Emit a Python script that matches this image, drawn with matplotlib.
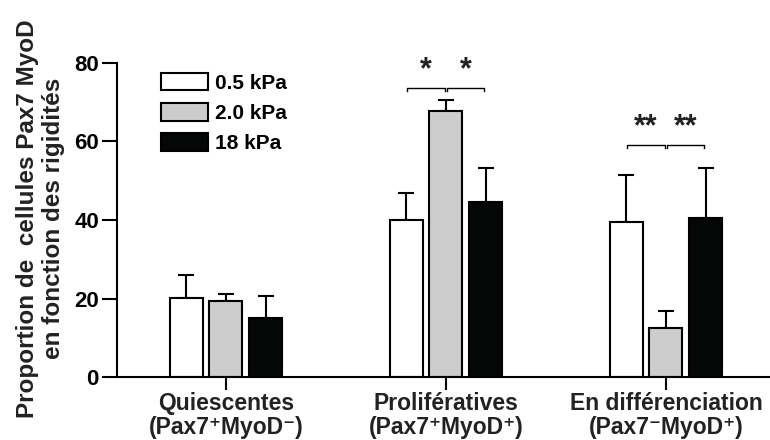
import matplotlib
matplotlib.use("Agg")
import matplotlib.pyplot as plt
import numpy as np

plt.rcParams['font.family'] = ['Liberation Sans', 'DejaVu Sans']
plt.rcParams['font.weight'] = 'bold'

categories = ["Quiescentes\n(Pax7\u207aMyoD\u207b)",
              "Prolifératives\n(Pax7\u207aMyoD\u207a)",
              "En différenciation\n(Pax7\u207bMyoD\u207a)"]
series = ["0.5 kPa", "2.0 kPa", "18 kPa"]
values = {
    "0.5 kPa": [20.2, 40.0, 39.6],
    "2.0 kPa": [19.4, 67.8, 12.6],
    "18 kPa": [15.1, 44.7, 40.4],
}
errors = {
    "0.5 kPa": [5.7, 6.9, 11.9],
    "2.0 kPa": [1.8, 2.7, 4.3],
    "18 kPa": [5.6, 8.6, 12.9],
}
colors = ["white", "#cccccc", "#050707"]
yticks = [0, 20, 40, 60, 80]
# significance: (category, series_i, series_j, bracket_y, label)
sig = [
    (1, 0, 1, 73.7, "*"),
    (1, 1, 2, 73.7, "*"),
    (2, 0, 1, 59.1, "**"),
    (2, 1, 2, 59.1, "**"),
]

fig = plt.figure(figsize=(7.7, 4.4), dpi=100)
ax = fig.add_axes([0.152, 0.143, 0.848, 0.714])

x = np.arange(len(categories))
width = 0.15
offset = 0.18
for i, s in enumerate(series):
    xs = x + (i - 1) * offset
    ax.bar(xs, values[s], width=width, color=colors[i], edgecolor='black',
           linewidth=1.5, label=s, zorder=2)
    ax.errorbar(xs, values[s], yerr=[np.zeros(len(x)), errors[s]], fmt='none',
                ecolor='black', elinewidth=1.5, capsize=6, capthick=1.5, zorder=1)

for c, i, j, yb, lab in sig:
    x1 = c + (i - 1) * offset + 0.005
    x2 = c + (j - 1) * offset - 0.005
    ax.plot([x1, x1, x2, x2], [yb - 0.8, yb, yb, yb - 0.8], color='black', lw=1.0)
    ax.text((x1 + x2) / 2, yb + 0.6, lab, ha='center', va='bottom',
            fontsize=22, fontweight='bold', color='#222222')

ax.set_xlim(-0.495, 2.473)
ax.set_ylim(0, 80)
ax.set_yticks(yticks)
ax.set_xticks(x)
ax.set_xticklabels(categories, fontsize=16.5, fontweight='bold', linespacing=1.05,
                   color='#222222')
ax.tick_params(axis='y', labelsize=16, length=11, width=1.5, direction='out', pad=2)
ax.tick_params(axis='x', length=9, width=1.5, direction='out', pad=2)
for lab in ax.get_yticklabels():
    lab.set_fontweight('bold')
ax.spines['top'].set_visible(False)
ax.spines['right'].set_visible(False)
ax.spines['left'].set_linewidth(1.5)
ax.spines['bottom'].set_linewidth(1.5)

ax.set_ylabel("Proportion de  cellules Pax7 MyoD\nen fonction des rigidités",
              fontsize=17.5, fontweight='bold', linespacing=1.15, color='#222222')
ax.yaxis.set_label_coords(-0.08, 0.505)

ax.legend(loc='upper left', bbox_to_anchor=(0.068, 0.968), frameon=False,
          fontsize=15, handlelength=2.25, handleheight=0.9, labelspacing=0.5,
          handletextpad=0.3, borderaxespad=0, borderpad=0)

fig.savefig("out.png", dpi=100)
